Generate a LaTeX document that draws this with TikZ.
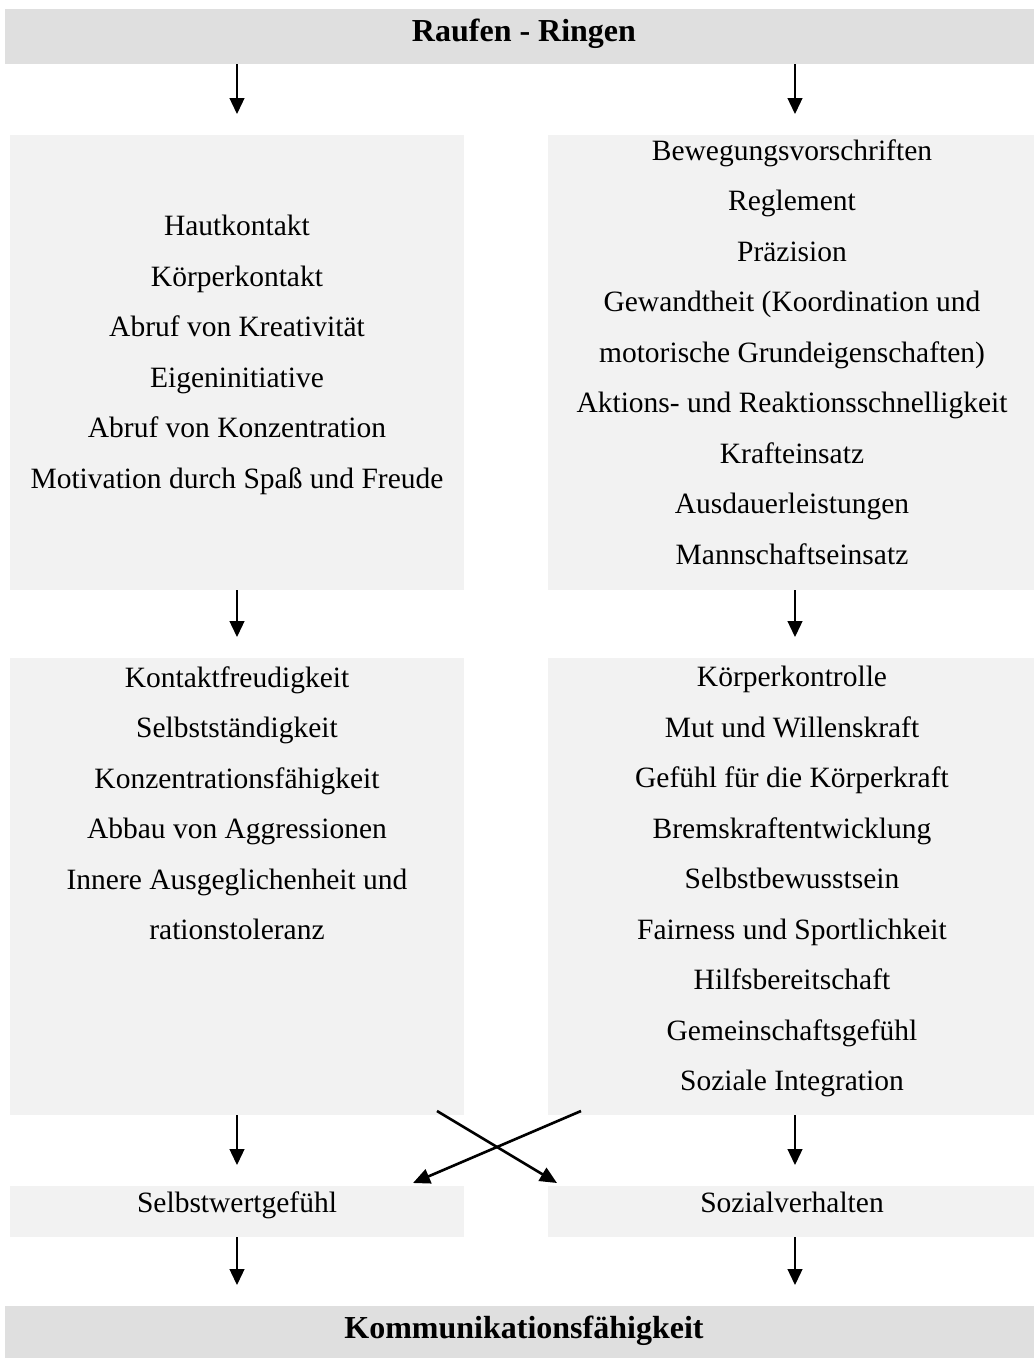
\documentclass[tikz,border=0pt]{standalone}
\usepackage{fontspec}
\setmainfont{Liberation Serif}
\usetikzlibrary{arrows.meta}
\definecolor{bannergray}{HTML}{DFDFDF}
\definecolor{boxgray}{HTML}{F2F2F2}
\begin{document}
\begin{tikzpicture}[x=1pt,y=-1pt,
  banner/.style={fill=bannergray,draw=none,inner sep=0pt,outer sep=0pt},
  boxbg/.style={fill=boxgray,draw=none,inner sep=0pt,outer sep=0pt},
  txt/.style={align=center,inner sep=0pt,font=\fontsize{29.5}{50.5}\selectfont},
  oneline/.style={inner sep=0pt,text height=20pt,text depth=6.4pt,font=\fontsize{29.5}{34}\selectfont},
  bold/.style={inner sep=0pt,text height=22pt,text depth=7pt,font=\fontsize{32}{38}\selectfont\bfseries},
  arr/.style={-{Triangle[length=16pt,width=15pt]},line width=1.3pt,shorten >=21pt},
  xarr/.style={-{Triangle[length=17pt,width=15pt]},line width=2.6pt}]
\useasboundingbox (0,0) rectangle (1034,1358);
% banners
\node[banner,minimum width=1029,minimum height=55] (top) at (519.5,36.5) {};
\node[bold] (toptxt) at (524,33.5) {Raufen - Ringen};
\node[banner,minimum width=1029,minimum height=52] (bot) at (519.5,1332) {};
\node[bold] (bottxt) at (524,1331) {Kommunikationsfähigkeit};
% boxes
\node[boxbg,minimum width=454,minimum height=455] (L1) at (237,362.5) {};
\node[boxbg,minimum width=486,minimum height=455] (R1) at (791,362.5) {};
\node[boxbg,minimum width=454,minimum height=457] (L2) at (237,886.5) {};
\node[boxbg,minimum width=486,minimum height=457] (R2) at (791,886.5) {};
\node[boxbg,minimum width=454,minimum height=51] (L3) at (237,1211.5) {};
\node[boxbg,minimum width=486,minimum height=51] (R3) at (791,1211.5) {};
% texts
\node[txt] (L1t) at (237,355) {Hautkontakt\\Körperkontakt\\Abruf von Kreativität\\Eigeninitiative\\Abruf von Konzentration\\Motivation durch Spaß und Freude};
\node[txt] (R1t) at (792,352) {Bewegungsvorschriften\\Reglement\\Präzision\\Gewandtheit (Koordination und\\motorische Grundeigenschaften)\\Aktions- und Reaktionsschnelligkeit\\Krafteinsatz\\Ausdauerleistungen\\Mannschaftseinsatz};
\node[txt] (L2t) at (237,803) {Kontaktfreudigkeit\\Selbstständigkeit\\Konzentrationsfähigkeit\\Abbau von Aggressionen\\Innere Ausgeglichenheit und\\rationstoleranz};
\node[txt] (R2t) at (792,881.5) {Körperkontrolle\\Mut und Willenskraft\\Gefühl für die Körperkraft\\Bremskraftentwicklung\\Selbstbewusstsein\\Fairness und Sportlichkeit\\Hilfsbereitschaft\\Gemeinschaftsgefühl\\Soziale Integration};
\node[oneline] (L3t) at (237,1205.5) {Selbstwertgefühl};
\node[oneline] (R3t) at (792,1205.5) {Sozialverhalten};
% arrow columns
\coordinate (cl) at (237,0);
\coordinate (cr) at (795,0);
\draw[arr] (top.south -| cl) -- (L1.north -| cl);
\draw[arr] (top.south -| cr) -- (R1.north -| cr);
\draw[arr] (L1.south -| cl) -- (L2.north -| cl);
\draw[arr] (R1.south -| cr) -- (R2.north -| cr);
\draw[arr] (L2.south -| cl) -- (L3.north -| cl);
\draw[arr] (R2.south -| cr) -- (R3.north -| cr);
\draw[arr] (L3.south -| cl) -- (bot.north -| cl);
\draw[arr] (R3.south -| cr) -- (bot.north -| cr);
% cross arrows
\coordinate (xa) at (437,1111);
\coordinate (xb) at (557,1183);
\coordinate (xc) at (581,1111);
\coordinate (xd) at (413,1183);
\draw[xarr] (xa) -- (xb);
\draw[xarr] (xc) -- (xd);
\end{tikzpicture}
\end{document}
